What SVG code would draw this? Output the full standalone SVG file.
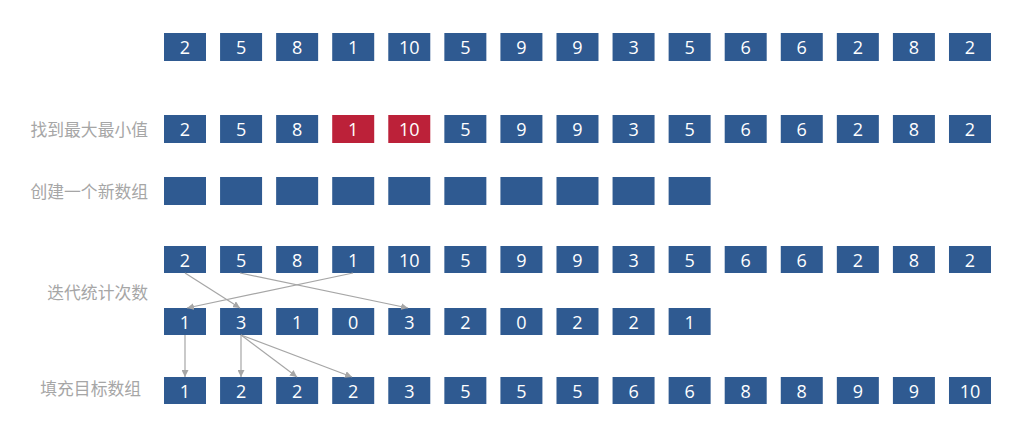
<svg xmlns="http://www.w3.org/2000/svg" width="1036" height="441" viewBox="0 0 1036 441">
<style>
.b{fill:#2F5A91}
.r{fill:#BC2139}
.t{fill:#fff;font-family:"Open Sans","Liberation Sans",sans-serif;font-size:18px;text-anchor:middle;dominant-baseline:central}
.l{fill:#a6a6a6;font-family:"Noto Sans CJK SC",sans-serif;font-size:16.8px;text-anchor:end;dominant-baseline:central}
.c{stroke:#a6a6a6;stroke-width:1.2;fill:none;marker-end:url(#a)}
</style>
<defs>
<marker id="a" viewBox="0 0 10 10" refX="10" refY="5" markerWidth="7" markerHeight="7" markerUnits="userSpaceOnUse" orient="auto"><path d="M0,0L10,5L0,10z" fill="#a6a6a6"/></marker>
</defs>
<g id="labels">
<text class="l" x="148" y="129">找到最大最小值</text>
<text class="l" x="148" y="191">创建一个新数组</text>
<text class="l" x="148" y="292">迭代统计次数</text>
<text class="l" x="141" y="388">填充目标数组</text>
</g>
<g id="row1">
<rect class="b" x="164" y="33" width="42" height="28"/><text class="t" x="185" y="47">2</text>
<rect class="b" x="220.07" y="33" width="42" height="28"/><text class="t" x="241.07" y="47">5</text>
<rect class="b" x="276.14" y="33" width="42" height="28"/><text class="t" x="297.14" y="47">8</text>
<rect class="b" x="332.21" y="33" width="42" height="28"/><text class="t" x="353.21" y="47">1</text>
<rect class="b" x="388.28" y="33" width="42" height="28"/><text class="t" x="409.28" y="47">10</text>
<rect class="b" x="444.35" y="33" width="42" height="28"/><text class="t" x="465.35" y="47">5</text>
<rect class="b" x="500.42" y="33" width="42" height="28"/><text class="t" x="521.42" y="47">9</text>
<rect class="b" x="556.49" y="33" width="42" height="28"/><text class="t" x="577.49" y="47">9</text>
<rect class="b" x="612.56" y="33" width="42" height="28"/><text class="t" x="633.56" y="47">3</text>
<rect class="b" x="668.63" y="33" width="42" height="28"/><text class="t" x="689.63" y="47">5</text>
<rect class="b" x="724.7" y="33" width="42" height="28"/><text class="t" x="745.7" y="47">6</text>
<rect class="b" x="780.77" y="33" width="42" height="28"/><text class="t" x="801.77" y="47">6</text>
<rect class="b" x="836.84" y="33" width="42" height="28"/><text class="t" x="857.84" y="47">2</text>
<rect class="b" x="892.91" y="33" width="42" height="28"/><text class="t" x="913.91" y="47">8</text>
<rect class="b" x="948.98" y="33" width="42" height="28"/><text class="t" x="969.98" y="47">2</text>
</g>
<g id="row2">
<rect class="b" x="164" y="115" width="42" height="28"/><text class="t" x="185" y="129">2</text>
<rect class="b" x="220.07" y="115" width="42" height="28"/><text class="t" x="241.07" y="129">5</text>
<rect class="b" x="276.14" y="115" width="42" height="28"/><text class="t" x="297.14" y="129">8</text>
<rect class="r" x="332.21" y="115" width="42" height="28"/><text class="t" x="353.21" y="129">1</text>
<rect class="r" x="388.28" y="115" width="42" height="28"/><text class="t" x="409.28" y="129">10</text>
<rect class="b" x="444.35" y="115" width="42" height="28"/><text class="t" x="465.35" y="129">5</text>
<rect class="b" x="500.42" y="115" width="42" height="28"/><text class="t" x="521.42" y="129">9</text>
<rect class="b" x="556.49" y="115" width="42" height="28"/><text class="t" x="577.49" y="129">9</text>
<rect class="b" x="612.56" y="115" width="42" height="28"/><text class="t" x="633.56" y="129">3</text>
<rect class="b" x="668.63" y="115" width="42" height="28"/><text class="t" x="689.63" y="129">5</text>
<rect class="b" x="724.7" y="115" width="42" height="28"/><text class="t" x="745.7" y="129">6</text>
<rect class="b" x="780.77" y="115" width="42" height="28"/><text class="t" x="801.77" y="129">6</text>
<rect class="b" x="836.84" y="115" width="42" height="28"/><text class="t" x="857.84" y="129">2</text>
<rect class="b" x="892.91" y="115" width="42" height="28"/><text class="t" x="913.91" y="129">8</text>
<rect class="b" x="948.98" y="115" width="42" height="28"/><text class="t" x="969.98" y="129">2</text>
</g>
<g id="row3">
<rect class="b" x="164" y="177" width="42" height="28"/>
<rect class="b" x="220.07" y="177" width="42" height="28"/>
<rect class="b" x="276.14" y="177" width="42" height="28"/>
<rect class="b" x="332.21" y="177" width="42" height="28"/>
<rect class="b" x="388.28" y="177" width="42" height="28"/>
<rect class="b" x="444.35" y="177" width="42" height="28"/>
<rect class="b" x="500.42" y="177" width="42" height="28"/>
<rect class="b" x="556.49" y="177" width="42" height="28"/>
<rect class="b" x="612.56" y="177" width="42" height="28"/>
<rect class="b" x="668.63" y="177" width="42" height="28"/>
</g>
<g id="row4">
<rect class="b" x="164" y="246" width="42" height="27"/><text class="t" x="185" y="259.5">2</text>
<rect class="b" x="220.07" y="246" width="42" height="27"/><text class="t" x="241.07" y="259.5">5</text>
<rect class="b" x="276.14" y="246" width="42" height="27"/><text class="t" x="297.14" y="259.5">8</text>
<rect class="b" x="332.21" y="246" width="42" height="27"/><text class="t" x="353.21" y="259.5">1</text>
<rect class="b" x="388.28" y="246" width="42" height="27"/><text class="t" x="409.28" y="259.5">10</text>
<rect class="b" x="444.35" y="246" width="42" height="27"/><text class="t" x="465.35" y="259.5">5</text>
<rect class="b" x="500.42" y="246" width="42" height="27"/><text class="t" x="521.42" y="259.5">9</text>
<rect class="b" x="556.49" y="246" width="42" height="27"/><text class="t" x="577.49" y="259.5">9</text>
<rect class="b" x="612.56" y="246" width="42" height="27"/><text class="t" x="633.56" y="259.5">3</text>
<rect class="b" x="668.63" y="246" width="42" height="27"/><text class="t" x="689.63" y="259.5">5</text>
<rect class="b" x="724.7" y="246" width="42" height="27"/><text class="t" x="745.7" y="259.5">6</text>
<rect class="b" x="780.77" y="246" width="42" height="27"/><text class="t" x="801.77" y="259.5">6</text>
<rect class="b" x="836.84" y="246" width="42" height="27"/><text class="t" x="857.84" y="259.5">2</text>
<rect class="b" x="892.91" y="246" width="42" height="27"/><text class="t" x="913.91" y="259.5">8</text>
<rect class="b" x="948.98" y="246" width="42" height="27"/><text class="t" x="969.98" y="259.5">2</text>
</g>
<g id="row5">
<rect class="b" x="164" y="308" width="42" height="27"/><text class="t" x="185" y="321.5">1</text>
<rect class="b" x="220.07" y="308" width="42" height="27"/><text class="t" x="241.07" y="321.5">3</text>
<rect class="b" x="276.14" y="308" width="42" height="27"/><text class="t" x="297.14" y="321.5">1</text>
<rect class="b" x="332.21" y="308" width="42" height="27"/><text class="t" x="353.21" y="321.5">0</text>
<rect class="b" x="388.28" y="308" width="42" height="27"/><text class="t" x="409.28" y="321.5">3</text>
<rect class="b" x="444.35" y="308" width="42" height="27"/><text class="t" x="465.35" y="321.5">2</text>
<rect class="b" x="500.42" y="308" width="42" height="27"/><text class="t" x="521.42" y="321.5">0</text>
<rect class="b" x="556.49" y="308" width="42" height="27"/><text class="t" x="577.49" y="321.5">2</text>
<rect class="b" x="612.56" y="308" width="42" height="27"/><text class="t" x="633.56" y="321.5">2</text>
<rect class="b" x="668.63" y="308" width="42" height="27"/><text class="t" x="689.63" y="321.5">1</text>
</g>
<g id="row6">
<rect class="b" x="164" y="377" width="42" height="27"/><text class="t" x="185" y="390.5">1</text>
<rect class="b" x="220.07" y="377" width="42" height="27"/><text class="t" x="241.07" y="390.5">2</text>
<rect class="b" x="276.14" y="377" width="42" height="27"/><text class="t" x="297.14" y="390.5">2</text>
<rect class="b" x="332.21" y="377" width="42" height="27"/><text class="t" x="353.21" y="390.5">2</text>
<rect class="b" x="388.28" y="377" width="42" height="27"/><text class="t" x="409.28" y="390.5">3</text>
<rect class="b" x="444.35" y="377" width="42" height="27"/><text class="t" x="465.35" y="390.5">5</text>
<rect class="b" x="500.42" y="377" width="42" height="27"/><text class="t" x="521.42" y="390.5">5</text>
<rect class="b" x="556.49" y="377" width="42" height="27"/><text class="t" x="577.49" y="390.5">5</text>
<rect class="b" x="612.56" y="377" width="42" height="27"/><text class="t" x="633.56" y="390.5">6</text>
<rect class="b" x="668.63" y="377" width="42" height="27"/><text class="t" x="689.63" y="390.5">6</text>
<rect class="b" x="724.7" y="377" width="42" height="27"/><text class="t" x="745.7" y="390.5">8</text>
<rect class="b" x="780.77" y="377" width="42" height="27"/><text class="t" x="801.77" y="390.5">8</text>
<rect class="b" x="836.84" y="377" width="42" height="27"/><text class="t" x="857.84" y="390.5">9</text>
<rect class="b" x="892.91" y="377" width="42" height="27"/><text class="t" x="913.91" y="390.5">9</text>
<rect class="b" x="948.98" y="377" width="42" height="27"/><text class="t" x="969.98" y="390.5">10</text>
</g>
<g id="connectors">
<line class="c" x1="185" y1="273" x2="240" y2="308"/>
<line class="c" x1="240" y1="273" x2="408" y2="308"/>
<line class="c" x1="353" y1="273" x2="187" y2="308"/>
<line class="c" x1="185" y1="335" x2="185" y2="377"/>
<line class="c" x1="241" y1="335" x2="241" y2="377"/>
<line class="c" x1="241" y1="335" x2="297" y2="377"/>
<line class="c" x1="241" y1="335" x2="352" y2="377"/>
</g>
</svg>
